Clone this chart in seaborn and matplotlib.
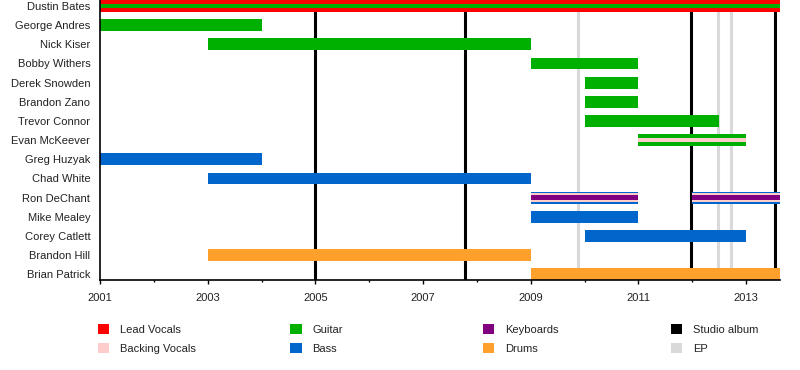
import matplotlib
matplotlib.use("Agg")
import matplotlib.pyplot as plt
from matplotlib.patches import Patch
import seaborn as sns

# Members from top to bottom, with their roles (first role = full bar)
members = ["Dustin Bates", "George Andres", "Nick Kiser", "Bobby Withers",
           "Derek Snowden", "Brandon Zano", "Trevor Connor", "Evan McKeever",
           "Greg Huzyak", "Chad White", "Ron DeChant", "Mike Mealey",
           "Corey Catlett", "Brandon Hill", "Brian Patrick"]
member_roles = [["Lead Vocals", "Guitar"], ["Guitar"], ["Guitar"], ["Guitar"],
                ["Guitar"], ["Guitar"], ["Guitar"], ["Guitar", "Backing Vocals"],
                ["Bass"], ["Bass"], ["Bass", "Backing Vocals", "Keyboards"], ["Bass"],
                ["Bass"], ["Drums"], ["Drums"]]

# Membership periods (decimal years)
period_member = ["Dustin Bates", "George Andres", "Nick Kiser", "Bobby Withers",
                 "Derek Snowden", "Brandon Zano", "Trevor Connor", "Evan McKeever",
                 "Greg Huzyak", "Chad White", "Ron DeChant", "Ron DeChant",
                 "Mike Mealey", "Corey Catlett", "Brandon Hill", "Brian Patrick"]
period_start = [2001.0, 2001.0, 2003.0, 2009.0, 2010.0, 2010.0, 2010.0, 2011.0,
                2001.0, 2003.0, 2009.0, 2012.0, 2009.0, 2010.0, 2003.0, 2009.0]
period_end = [2013.63, 2004.0, 2009.0, 2011.0, 2011.0, 2011.0, 2012.5, 2013.0,
              2004.0, 2009.0, 2011.0, 2013.63, 2011.0, 2013.0, 2009.0, 2013.63]

# Releases
studio_albums = [2005.0, 2007.78, 2011.98, 2013.54]
eps = [2009.88, 2012.48, 2012.72]

x_start, x_end = 2001.0, 2013.63
year_ticks = list(range(2001, 2014, 2))
minor_ticks = list(range(2002, 2014, 2))

role_colors = {
    "Lead Vocals": "#ff0000",
    "Backing Vocals": "#ffcccc",
    "Guitar": "#00b000",
    "Bass": "#0066cc",
    "Keyboards": "#800080",
    "Drums": "#ffa02c",
    "Studio album": "#000000",
    "EP": "#d9d9d9",
}
stripe_heights = {1: [0.62], 2: [0.62, 0.24], 3: [0.62, 0.44, 0.26]}

sns.set_theme(style="ticks")
plt.rcParams["font.family"] = ["Liberation Sans", "DejaVu Sans"]

fig, ax = plt.subplots(figsize=(8, 3.7), dpi=100)
fig.subplots_adjust(left=0.125, right=0.975, top=1.0, bottom=0.243)

for x in eps:
    ax.axvline(x, color=role_colors["EP"], lw=2.2, zorder=1)
for x in studio_albums:
    ax.axvline(x, color=role_colors["Studio album"], lw=2.2, zorder=1)

for m, s, e in zip(period_member, period_start, period_end):
    i = members.index(m)
    roles = member_roles[i]
    for role, h in zip(roles, stripe_heights[len(roles)]):
        ax.barh(i, e - s, left=s, height=h, color=role_colors[role],
                linewidth=0, zorder=2)

ax.set_xlim(x_start, x_end)
ax.set_ylim(len(members) - 1 + 0.3, -0.31)
ax.set_yticks(range(len(members)))
ax.set_yticklabels(members)
ax.set_xticks(year_ticks)
ax.set_xticks(minor_ticks, minor=True)
ax.tick_params(axis="y", length=0, pad=7, labelsize=8, labelcolor="#222222")
ax.tick_params(axis="x", which="major", length=3, width=1, color="black",
               pad=6, labelsize=8, labelcolor="#222222", bottom=True)
ax.tick_params(axis="x", which="minor", length=1.5, width=1, color="black",
               bottom=True)
sns.despine(ax=ax)
for side in ["left", "bottom"]:
    ax.spines[side].set_color("black")
    ax.spines[side].set_linewidth(1.2)

legend_columns = [["Lead Vocals", "Backing Vocals"], ["Guitar", "Bass"],
                  ["Keyboards", "Drums"], ["Studio album", "EP"]]
legend_x = [0.1225, 0.363, 0.6035, 0.839]
for lx, names in zip(legend_x, legend_columns):
    handles = [Patch(facecolor=role_colors[n], edgecolor="none") for n in names]
    fig.legend(handles=handles, labels=names, loc="upper left",
               bbox_to_anchor=(lx, 0.124), frameon=False,
               handlelength=1.0, handleheight=1.0, handletextpad=1.0,
               labelspacing=0.72, borderpad=0, borderaxespad=0, fontsize=8,
               labelcolor="#222222")

fig.savefig("out.png", dpi=100)
